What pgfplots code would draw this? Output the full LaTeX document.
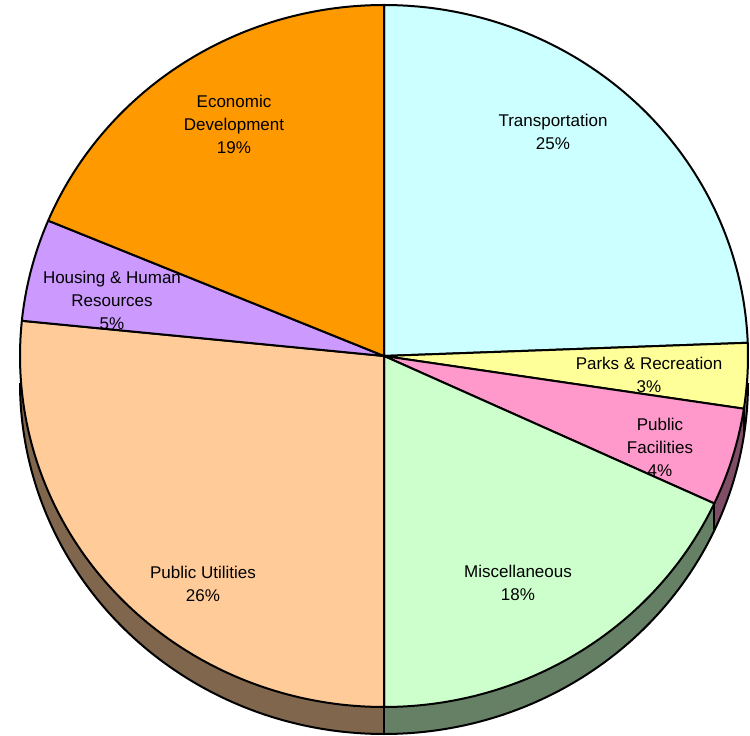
\documentclass[border=0pt]{standalone}
\usepackage{pgfplots}
\pgfplotsset{compat=1.18}
\usepgfplotslibrary{fillbetween}
\usepackage{fontspec}
\setmainfont{Liberation Sans}

% shares in percent (clockwise from 12 o'clock)
\def\pTra{24.4}
\def\pPar{3.0}
\def\pFac{4.5}
\def\pMis{18.1}
\def\pUti{26.6}
\def\pHou{4.7}
\def\pEco{18.7}

\def\cx{384}\def\cy{379}\def\rx{364}\def\ry{351}\def\dd{27}

\pgfmathsetmacro\aA{90}
\pgfmathsetmacro\aB{\aA-3.6*\pTra}
\pgfmathsetmacro\aC{\aB-3.6*\pPar}
\pgfmathsetmacro\aD{\aC-3.6*\pFac}
\pgfmathsetmacro\aE{\aD-3.6*\pMis}
\pgfmathsetmacro\aF{\aE-3.6*\pUti}
\pgfmathsetmacro\aG{\aF-3.6*\pHou}
\pgfmathsetmacro\aH{\aG-3.6*\pEco}
\pgfmathsetmacro\sB{min(\aB,0)}
\pgfmathsetmacro\sF{max(\aF,-180)}
% vertical side edges
\pgfmathsetmacro\xC{\cx+\rx*cos(\aC)}\pgfmathsetmacro\yC{\cy+\ry*sin(\aC)}\pgfmathsetmacro\zC{\yC-\dd}
\pgfmathsetmacro\xD{\cx+\rx*cos(\aD)}\pgfmathsetmacro\yD{\cy+\ry*sin(\aD)}\pgfmathsetmacro\zD{\yD-\dd}
\pgfmathsetmacro\xE{\cx+\rx*cos(\aE)}\pgfmathsetmacro\yE{\cy+\ry*sin(\aE)}\pgfmathsetmacro\zE{\yE-\dd}

\definecolor{cTra}{HTML}{CCFFFF}
\definecolor{cPar}{HTML}{FFFF99}
\definecolor{cFac}{HTML}{FF99CC}
\definecolor{cMis}{HTML}{CCFFCC}
\definecolor{cUti}{HTML}{FFCC99}
\definecolor{cHou}{HTML}{CC99FF}
\definecolor{cEco}{HTML}{FF9900}
\definecolor{dPar}{HTML}{80804D}
\definecolor{dFac}{HTML}{804D66}
\definecolor{dMis}{HTML}{668066}
\definecolor{dUti}{HTML}{80664D}

\tikzset{lab/.style={align=center, font=\fontsize{17bp}{23bp}\selectfont, text=black},
  ol/.style={draw=black, line width=2bp, line join=round}}

\begin{document}
\begin{tikzpicture}
\begin{axis}[
  scale only axis, width=750bp, height=735bp,
  xmin=0, xmax=750, ymin=0, ymax=735,
  axis line style={draw=none}, xtick=\empty, ytick=\empty,
  clip=false,
]
% ---- extruded sides
\addplot[draw=none, name path=t1, domain=\aC:\sB, samples=20, variable=\t] ({\cx+\rx*cos(\t)},{\cy+\ry*sin(\t)});
\addplot[ol, name path=b1, domain=\aC:\sB, samples=20, variable=\t] ({\cx+\rx*cos(\t)},{\cy-\dd+\ry*sin(\t)});
\addplot[fill=dPar, draw=none] fill between[of=t1 and b1];
\addplot[draw=none, name path=t2, domain=\aD:\aC, samples=30, variable=\t] ({\cx+\rx*cos(\t)},{\cy+\ry*sin(\t)});
\addplot[ol, name path=b2, domain=\aD:\aC, samples=30, variable=\t] ({\cx+\rx*cos(\t)},{\cy-\dd+\ry*sin(\t)});
\addplot[fill=dFac, draw=none] fill between[of=t2 and b2];
\addplot[draw=none, name path=t3, domain=\aE:\aD, samples=80, variable=\t] ({\cx+\rx*cos(\t)},{\cy+\ry*sin(\t)});
\addplot[ol, name path=b3, domain=\aE:\aD, samples=80, variable=\t] ({\cx+\rx*cos(\t)},{\cy-\dd+\ry*sin(\t)});
\addplot[fill=dMis, draw=none] fill between[of=t3 and b3];
\addplot[draw=none, name path=t4, domain=\sF:\aE, samples=100, variable=\t] ({\cx+\rx*cos(\t)},{\cy+\ry*sin(\t)});
\addplot[ol, name path=b4, domain=\sF:\aE, samples=100, variable=\t] ({\cx+\rx*cos(\t)},{\cy-\dd+\ry*sin(\t)});
\addplot[fill=dUti, draw=none] fill between[of=t4 and b4];
\addplot[ol] coordinates {(\xC,\yC) (\xC,\zC)};
\addplot[ol] coordinates {(\xD,\yD) (\xD,\zD)};
\addplot[ol] coordinates {(\xE,\yE) (\xE,\zE)};
% ---- top slices
\addplot[ol, fill=cTra, domain=\aB:\aA, samples=100, variable=\t] ({\cx+\rx*cos(\t)},{\cy+\ry*sin(\t)}) -- (axis cs:\cx,\cy) -- cycle;
\addplot[ol, fill=cPar, domain=\aC:\aB, samples=20, variable=\t] ({\cx+\rx*cos(\t)},{\cy+\ry*sin(\t)}) -- (axis cs:\cx,\cy) -- cycle;
\addplot[ol, fill=cFac, domain=\aD:\aC, samples=30, variable=\t] ({\cx+\rx*cos(\t)},{\cy+\ry*sin(\t)}) -- (axis cs:\cx,\cy) -- cycle;
\addplot[ol, fill=cMis, domain=\aE:\aD, samples=80, variable=\t] ({\cx+\rx*cos(\t)},{\cy+\ry*sin(\t)}) -- (axis cs:\cx,\cy) -- cycle;
\addplot[ol, fill=cUti, domain=\aF:\aE, samples=100, variable=\t] ({\cx+\rx*cos(\t)},{\cy+\ry*sin(\t)}) -- (axis cs:\cx,\cy) -- cycle;
\addplot[ol, fill=cHou, domain=\aG:\aF, samples=30, variable=\t] ({\cx+\rx*cos(\t)},{\cy+\ry*sin(\t)}) -- (axis cs:\cx,\cy) -- cycle;
\addplot[ol, fill=cEco, domain=\aH:\aG, samples=80, variable=\t] ({\cx+\rx*cos(\t)},{\cy+\ry*sin(\t)}) -- (axis cs:\cx,\cy) -- cycle;
% ---- labels
\node[lab] at (axis cs:553,603) {Transportation\\25\%};
\node[lab] at (axis cs:649,360) {Parks \& Recreation\\3\%};
\node[lab] at (axis cs:660,288) {Public\\Facilities\\4\%};
\node[lab] at (axis cs:518,152) {Miscellaneous\\18\%};
\node[lab] at (axis cs:203,151) {Public Utilities\\26\%};
\node[lab] at (axis cs:112,435) {Housing \& Human\\Resources\\5\%};
\node[lab] at (axis cs:234,611) {Economic\\Development\\19\%};
\end{axis}
\end{tikzpicture}
\end{document}
